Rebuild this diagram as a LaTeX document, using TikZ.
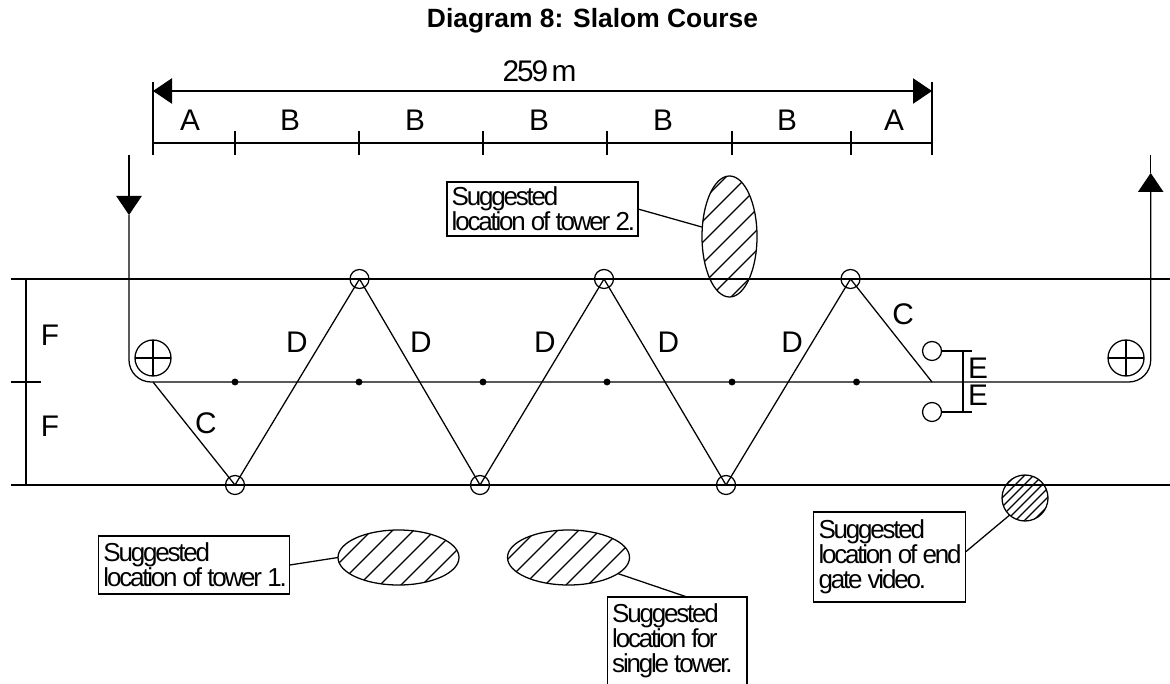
\documentclass[tikz,border=0pt]{standalone}
\usepackage{fontspec}
\setmainfont{Liberation Sans}
\newfontfamily\tightfont[LetterSpace=-8.5,WordSpace=0.55]{Liberation Sans}
\newfontfamily\lenfont[LetterSpace=-7,WordSpace=0.55]{Liberation Sans}
\usetikzlibrary{arrows.meta,calc,shapes.geometric}
\newcommand{\hatchfill}[5]{%
  \begin{scope}
    \clip (#1,#2) ellipse [x radius=#3, y radius=#4];
    \foreach \s in {#5} {\draw (#1-80,\s-#1+80) -- (#1+80,\s-#1-80);}
  \end{scope}}
\newcommand{\noteline}[1]{\mbox{\spaceskip=0.2em\relax #1}}
\tikzset{
  ln/.style={line width=0.95pt, black},
  letter/.style={inner sep=0pt, outer sep=0pt, font=\fontsize{22.35}{24}\selectfont},
  buoy/.style={circle, ln, draw, minimum size=14.25pt, inner sep=0pt, outer sep=0pt},
  pin/.style={circle, ln, draw, minimum size=27pt, inner sep=0pt, outer sep=0pt},
  dot/.style={circle, fill=black, minimum size=5.2pt, inner sep=0pt, outer sep=0pt},
  blob/.style={ellipse, ln, draw, inner sep=0pt, outer sep=0pt},
  notebox/.style={rectangle, ln, draw, inner xsep=3.5pt, inner ysep=0pt, outer sep=0pt,
    align=left, font=\fontsize{19.5}{18.9}\selectfont\tightfont},
  bighead/.style={-{Triangle[length=14.25pt,width=19pt]}}
}
\begin{document}
\begin{tikzpicture}[x=0.75pt,y=-0.75pt,ln]
\useasboundingbox (0,0) rectangle (1170,684);

% title and overall dimension
\node[anchor=base, inner sep=0pt, font=\fontsize{19.8}{22}\selectfont\bfseries] (title) at (592.5,28) {Diagram 8: Slalom Course};
\node[inner sep=0pt, font=\fontsize{22.35}{24}\selectfont\lenfont] (len) at (539.5,71.5) {259 m};
\coordinate (dimLt) at (153,82);
\coordinate (dimLb) at (153,155);
\coordinate (dimRt) at (932,82);
\coordinate (dimRb) at (932,155);
\coordinate (dimL) at (153,91);
\coordinate (dimR) at (932,91);
\coordinate (subL) at (153,143);
\coordinate (subR) at (932,143);
\draw (dimLt) -- (dimLb);
\draw (dimRt) -- (dimRb);
\draw[{Triangle[length=14.25pt,width=19pt]}-{Triangle[length=14.25pt,width=19pt]}] (dimL) -- (dimR);
\draw (subL) -- (subR);
\foreach \x in {235,359,483,607,732,851} {\coordinate (t) at (\x,131); \coordinate (u) at (\x,155); \draw (t) -- (u);}
\node[letter] (a1) at (190,120.5) {A};
\foreach \x/\n in {290/b1,415/b2,539/b3,663/b4,787/b5} {\node[letter] (\n) at (\x,120.5) {B};}
\node[letter] (a2) at (894,120.5) {A};

% course edges
\coordinate (topL) at (11,279);
\coordinate (topR) at (1170,279);
\coordinate (botL) at (11,485);
\coordinate (botR) at (1170,485);
\coordinate (fT) at (26,279);
\coordinate (fB) at (26,485);
\coordinate (fmL) at (11,382);
\coordinate (fmR) at (41,382);
\draw (topL) -- (topR);
\draw (botL) -- (botR);
\draw (fT) -- (fB);
\draw (fmL) -- (fmR);
\node[letter] (f1) at (50,335) {F};
\node[letter] (f2) at (50,426) {F};

% boat path
\coordinate (inTop) at (129,155);
\coordinate (inTip) at (129,215);
\coordinate (outTop) at (1150.7,155);
\coordinate (outTip) at (1150.7,173);
\coordinate (outBase) at (1150.7,192);
\draw[bighead] (inTop) -- (inTip);
\draw[rounded corners=16.5pt] (inTip) |- (outBase |- fmL) -- (outBase);
\draw[bighead] (outBase) -- (outTip);
\draw (outTop) -- (outTip);

\foreach \x/\n in {235/d1,359/d2,483/d3,607/d4,732/d5,856.5/d6} {\node[dot] (\n) at (\x,382) {};}

% buoys and zigzag
\node[buoy] (g1) at (235,485) {};
\node[buoy] (g2) at (359.5,279) {};
\node[buoy] (g3) at (480,485) {};
\node[buoy] (g4) at (604,279) {};
\node[buoy] (g5) at (726,485) {};
\node[buoy] (g6) at (850.5,279) {};
\coordinate (cS) at (153,382);
\coordinate (cE) at (932,382);
\draw (cS) -- (g1.center) -- (g2.center) -- (g3.center) -- (g4.center) -- (g5.center) -- (g6.center) -- (cE);
\foreach \x/\n in {297/o1,421/o2,545/o3,668.5/o4,792/o5} {\node[letter] (\n) at (\x,342) {D};}
\node[letter] (c1) at (206,423) {C};
\node[letter] (c2) at (903,314) {C};

% pins
\node[pin] (p1) at (153,358) {};
\node[pin] (p2) at (1126,358) {};
\draw (p1.north) -- (p1.south);
\draw (p1.west) -- (p1.east);
\draw (p2.north) -- (p2.south);
\draw (p2.west) -- (p2.east);

% end gate
\node[buoy] (e1) at (932,351) {};
\node[buoy] (e2) at (932,412) {};
\coordinate (e1r) at (972,351);
\coordinate (e2r) at (972,412);
\coordinate (e1m) at (963,351);
\coordinate (e2m) at (963,412);
\draw (e1.east) -- (e1r);
\draw (e2.east) -- (e2r);
\draw (e1m) -- (e2m);
\node[letter] (l1) at (978,368) {E};
\node[letter] (l2) at (978,395) {E};

% tower locations
\hatchfill{398.5}{557.5}{60.5}{27.5}{902,923,944,965,986,1007}
\node[blob, minimum width=90.75pt, minimum height=41.25pt] (tw1) at (398.5,557.5) {};
\hatchfill{729.5}{236.5}{27.5}{60.5}{903,924,945,966,987,1007,1028}
\node[blob, minimum width=41.25pt, minimum height=90.75pt] (tw2) at (729.5,236.5) {};
\hatchfill{568.5}{557.5}{61}{27.5}{1067,1088,1109,1130,1151,1173}
\node[blob, minimum width=91.5pt, minimum height=41.25pt] (tws) at (568.5,557.5) {};
\hatchfill{1025}{498}{23}{23}{1491,1500,1509,1518,1527,1536,1545,1554}
\node[blob, minimum width=34.5pt, minimum height=34.5pt] (vid) at (1025,498) {};

% note boxes
\node[notebox, text width=136.25pt, minimum height=43.5pt] (n1) at (194.25,565) {\noteline{Suggested}\\\noteline{location of tower 1.}};
\node[notebox, text width=136.25pt, minimum height=40.5pt] (n2) at (542.5,209) {\noteline{Suggested}\\\noteline{location of tower 2.}};
\node[notebox, text width=107pt, minimum height=67.5pt] (n4) at (889.85,557) {\noteline{Suggested}\\\noteline{location of end}\\\noteline{gate video.}};
\node[notebox, draw=none, text width=97.6pt] (n3) at (677.25,640.5) {\noteline{Suggested}\\\noteline{location for}\\\noteline{single tower.}};
\coordinate (n3bl) at (607.5,684.5);
\coordinate (n3tl) at (607.5,597);
\coordinate (n3tr) at (747,597);
\coordinate (n3br) at (747,684.5);
\draw (n3bl) -- (n3tl) -- (n3tr) -- (n3br);

% leaders
\draw (n1.east) -- (tw1.west);
\draw (n2.east) -- (tw2.161);
\draw ($(n3tl)!0.57!(n3tr)$) -- (tws.-18);
\draw (n4.4) -- (vid.228);
\end{tikzpicture}
\end{document}
